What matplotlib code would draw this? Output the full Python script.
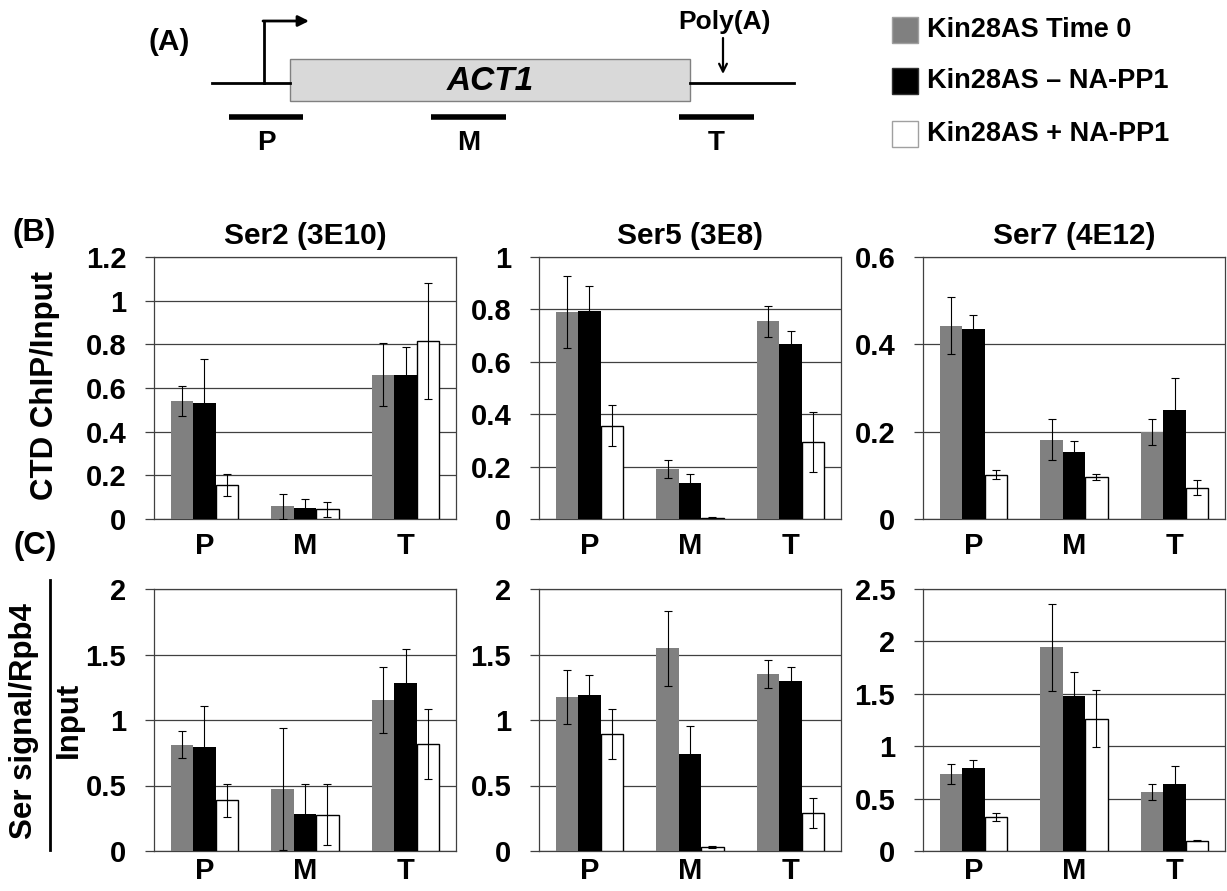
import matplotlib
matplotlib.use('Agg')
import matplotlib.pyplot as plt
import numpy as np
from matplotlib.patches import Rectangle
from matplotlib.ticker import FormatStrFormatter

plt.rcParams['font.family'] = ['Liberation Sans', 'DejaVu Sans']
plt.rcParams['font.weight'] = 'bold'

regions = ['P', 'M', 'T']
series = ['Kin28AS Time 0', 'Kin28AS \u2013 NA-PP1', 'Kin28AS + NA-PP1']
colors = ['#808080', '#000000', '#ffffff']

# (B) CTD ChIP/Input ; rows = series, columns = P, M, T
ser2_mean = [[0.542, 0.059, 0.661], [0.530, 0.052, 0.658], [0.155, 0.044, 0.815]]
ser2_err = [[0.068, 0.057, 0.143], [0.205, 0.041, 0.130], [0.050, 0.035, 0.266]]
ser5_mean = [[0.790, 0.191, 0.754], [0.793, 0.136, 0.667], [0.356, 0.004, 0.293]]
ser5_err = [[0.136, 0.036, 0.060], [0.098, 0.037, 0.050], [0.078, 0.002, 0.115]]
ser7_mean = [[0.443, 0.181, 0.200], [0.435, 0.153, 0.249], [0.1015, 0.096, 0.072]]
ser7_err = [[0.065, 0.047, 0.030], [0.032, 0.025, 0.074], [0.010, 0.0075, 0.018]]

# (C) Ser signal/Rpb4 over Input
ser2_norm_mean = [[0.810, 0.474, 1.150], [0.797, 0.285, 1.284], [0.386, 0.277, 0.817]]
ser2_norm_err = [[0.103, 0.466, 0.252], [0.313, 0.224, 0.260], [0.127, 0.233, 0.268]]
ser5_norm_mean = [[1.176, 1.547, 1.351], [1.194, 0.744, 1.300], [0.893, 0.031, 0.291]]
ser5_norm_err = [[0.203, 0.286, 0.108], [0.147, 0.208, 0.103], [0.194, 0.010, 0.113]]
ser7_norm_mean = [[0.734, 1.943, 0.563], [0.788, 1.480, 0.643], [0.325, 1.264, 0.0997]]
ser7_norm_err = [[0.093, 0.412, 0.080], [0.078, 0.232, 0.171], [0.034, 0.270, 0.008]]

titles = ['Ser2 (3E10)', 'Ser5 (3E8)', 'Ser7 (4E12)']

W, H = 1227, 891
fig = plt.figure(figsize=(W / 100, H / 100), dpi=100)

# overlay in pixel coordinates for the gene diagram, legend and labels
ov = fig.add_axes([0, 0, 1, 1])
ov.set_xlim(0, W)
ov.set_ylim(H, 0)
ov.axis('off')


def px_axes(left, top, right, bottom):
    return fig.add_axes([left / W, 1 - bottom / H, (right - left) / W, (bottom - top) / H])


def draw_panel(ax, means, errs, ymax, step, title=None, xpad=11):
    x = np.arange(len(regions))
    w = 0.222
    for i in range(3):
        ax.bar(x + (i - 1) * w, means[i], w, yerr=errs[i], color=colors[i],
               edgecolor='black' if i == 2 else colors[i], linewidth=1.0 if i == 2 else 0,
               error_kw=dict(ecolor='black', elinewidth=0.8, capsize=3, capthick=0.8, zorder=4),
               zorder=3)
    ax.set_xlim(-0.5, 2.5)
    ax.set_ylim(0, ymax)
    ax.set_yticks(np.arange(0, ymax + step / 2, step))
    ax.yaxis.set_major_formatter(FormatStrFormatter('%g'))
    ax.set_xticks(x)
    ax.set_xticklabels(regions)
    ax.grid(axis='y', color='#404040', lw=0.9)
    ax.set_axisbelow(True)
    for s in ax.spines.values():
        s.set_color('#404040')
        s.set_linewidth(0.9)
    ax.tick_params(axis='y', length=6.5, width=0.9, color='#404040', pad=13.5, labelsize=21)
    ax.tick_params(axis='x', length=0, pad=xpad, labelsize=21)
    if title:
        ax.set_title(title, fontsize=21.5, fontweight='bold', pad=9.5)


lefts = [154, 539, 923]
top_data = [(ser2_mean, ser2_err, 1.2, 0.2), (ser5_mean, ser5_err, 1.0, 0.2), (ser7_mean, ser7_err, 0.6, 0.2)]
bot_data = [(ser2_norm_mean, ser2_norm_err, 2.0, 0.5), (ser5_norm_mean, ser5_norm_err, 2.0, 0.5),
            (ser7_norm_mean, ser7_norm_err, 2.5, 0.5)]
for k in range(3):
    axb = px_axes(lefts[k], 257, lefts[k] + 302, 519)
    draw_panel(axb, *top_data[k], title=titles[k], xpad=9)
    axc = px_axes(lefts[k], 589, lefts[k] + 302, 851)
    draw_panel(axc, *bot_data[k], xpad=4)

# gene diagram (A)
ov.text(169, 42, '(A)', fontsize=21.5, ha='center', va='center')
ov.plot([212, 290], [83, 83], color='black', lw=2)
ov.plot([690, 794], [83, 83], color='black', lw=2)
ov.add_patch(Rectangle((290, 59), 400, 42, facecolor='#d9d9d9', edgecolor='#808080', lw=1))
ov.text(490, 82, 'ACT1', fontsize=24, fontstyle='italic', ha='center', va='center')
ov.plot([264, 264], [83, 21], color='black', lw=2)
ov.annotate('', xy=(309, 21), xytext=(263, 21),
            arrowprops=dict(arrowstyle='-|>', lw=2, color='black', mutation_scale=16, shrinkA=0, shrinkB=0))
ov.text(724, 22, 'Poly(A)', fontsize=19, ha='center', va='center')
ov.annotate('', xy=(723, 74), xytext=(723, 38),
            arrowprops=dict(arrowstyle='->', lw=1.6, color='black', mutation_scale=14, shrinkA=0, shrinkB=0))
for (x0, x1), lab in zip([(229, 303), (431, 506), (679, 754)], regions):
    ov.plot([x0, x1], [117, 117], color='black', lw=4, solid_capstyle='butt')
    ov.text((x0 + x1) / 2, 143, lab, fontsize=20, ha='center', va='center')

# legend
for i, (lab, c) in enumerate(zip(series, colors)):
    yc = [30, 81, 134][i]
    ec = '#a0a0a0' if i != 1 else '#303030'
    ov.add_patch(Rectangle((892, yc - 13), 26, 26, facecolor=c, edgecolor=ec, lw=1))
    ov.text(927, yc, lab, fontsize=19.5, ha='left', va='center')

# panel labels and y labels
ov.text(34, 233, '(B)', fontsize=22.5, ha='center', va='center')
ov.text(35, 546, '(C)', fontsize=22.5, ha='center', va='center')
ov.text(45, 385, 'CTD ChIP/Input', fontsize=22.5, rotation=90, ha='center', va='center')
ov.text(24, 721, 'Ser signal/Rpb4', fontsize=22.5, rotation=90, ha='center', va='center')
ov.plot([50, 50], [580, 850], color='black', lw=2)
ov.text(69, 720, 'Input', fontsize=22.5, rotation=90, ha='center', va='center')

fig.savefig('out.png', dpi=100)
